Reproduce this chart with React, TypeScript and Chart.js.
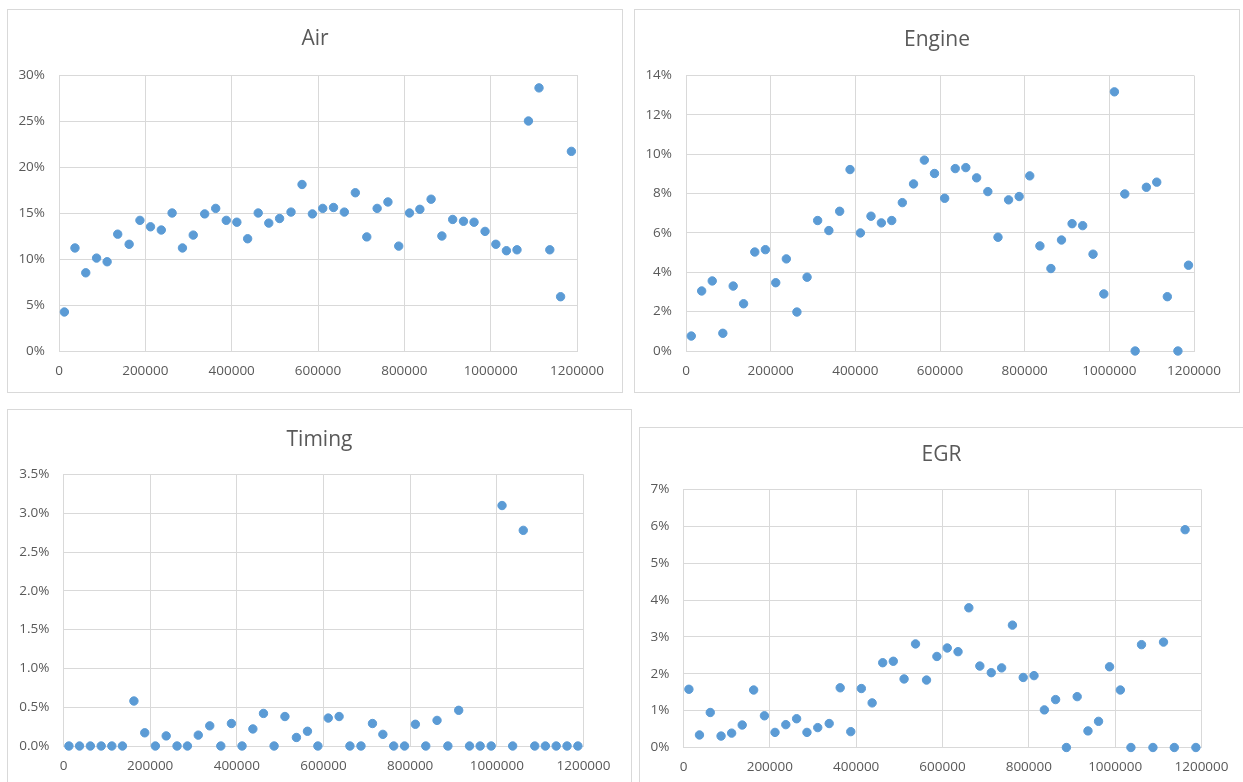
import React, { useEffect, useRef } from 'react';
import { Chart, registerables } from 'chart.js';

Chart.register(...registerables);

// ---- data ----
const mileage = [
  12500, 37000, 62000, 87000, 111500, 136000, 162500, 187500, 212000, 237000,
  262000, 286000, 311000, 337500, 363000, 387500, 412000, 437000, 461500, 486000,
  511000, 537500, 563000, 587000, 611000, 636000, 661000, 686500, 713000, 737000,
  762000, 787000, 812000, 836000, 862000, 887000, 912000, 937000, 961500, 987000,
  1012000, 1036500, 1061000, 1087500, 1112000, 1137000, 1162000, 1187000,
];

const airPct = [
  4.24, 11.2, 8.5, 10.1, 9.7, 12.7, 11.6, 14.2, 13.5, 13.15,
  15.0, 11.2, 12.6, 14.9, 15.5, 14.2, 14.0, 12.2, 15.0, 13.9,
  14.4, 15.1, 18.1, 14.9, 15.5, 15.6, 15.1, 17.2, 12.4, 15.5,
  16.2, 11.4, 15.0, 15.4, 16.5, 12.5, 14.3, 14.1, 14.0, 13.0,
  11.6, 10.9, 11.0, 25.0, 28.6, 11.0, 5.9, 21.7,
];

const enginePct = [
  0.76, 3.05, 3.56, 0.9, 3.3, 2.4, 5.03, 5.15, 3.47, 4.68,
  1.98, 3.75, 6.63, 6.12, 7.1, 9.22, 6.0, 6.85, 6.51, 6.63,
  7.54, 8.49, 9.7, 9.02, 7.76, 9.27, 9.32, 8.8, 8.1, 5.78,
  7.68, 7.85, 8.9, 5.34, 4.19, 5.64, 6.47, 6.37, 4.92, 2.9,
  13.17, 7.98, 0, 8.32, 8.58, 2.76, 0, 4.36,
];

const timingPct = [
  0, 0, 0, 0, 0, 0, 0.58, 0.17, 0, 0.13,
  0, 0, 0.14, 0.26, 0, 0.29, 0, 0.22, 0.42, 0,
  0.38, 0.11, 0.19, 0, 0.36, 0.38, 0, 0, 0.29, 0.15,
  0, 0, 0.28, 0, 0.33, 0, 0.46, 0, 0, 0,
  3.10, 0, 2.78, 0, 0, 0, 0, 0,
];

const egrPct = [
  1.58, 0.34, 0.95, 0.31, 0.39, 0.61, 1.56, 0.86, 0.41, 0.62,
  0.78, 0.41, 0.54, 0.65, 1.62, 0.43, 1.60, 1.21, 2.30, 2.34,
  1.86, 2.81, 1.83, 2.47, 2.70, 2.60, 3.79, 2.21, 2.03, 2.16,
  3.32, 1.90, 1.95, 1.02, 1.30, 0, 1.38, 0.45, 0.71, 2.19,
  1.56, 0, 2.79, 0, 2.86, 0, 5.91, 0,
];

const xAxisMax = 1200000;
const xAxisStep = 200000;

// ---- styling ----
const BLUE = '#5B9BD5';
const TEXT = '#595959';
const GRID = '#d9d9d9';
const FONT = '"Open Sans", "Noto Sans", sans-serif';
const TITLE_SIZE = 21;
const TICK_SIZE = 13.5;

type Panel = {
  title: string;
  values: number[];
  yMax: number;
  yStep: number;
  yDecimals: number;
  box: { left: number; top: number; width: number; height: number; noRight?: boolean; noBottom?: boolean };
  canvas: { left: number; top: number; width: number; height: number };
  yAxisWidth: number;
  rightSpace: number;
  titleCenter: number;
  plotTop: number;
  bottomSpace: number;
};

const panels: Panel[] = [
  {
    title: 'Air', values: airPct, yMax: 30, yStep: 5, yDecimals: 0,
    box: { left: 7, top: 9, width: 616, height: 384 },
    canvas: { left: 8, top: 10, width: 614, height: 382 },
    yAxisWidth: 51, rightSpace: 45, titleCenter: 29.5, plotTop: 65, bottomSpace: 41,
  },
  {
    title: 'Engine', values: enginePct, yMax: 14, yStep: 2, yDecimals: 0,
    box: { left: 634, top: 9, width: 606, height: 384 },
    canvas: { left: 635, top: 10, width: 604, height: 382 },
    yAxisWidth: 51, rightSpace: 45, titleCenter: 30, plotTop: 65.5, bottomSpace: 41,
  },
  {
    title: 'Timing', values: timingPct, yMax: 3.5, yStep: 0.5, yDecimals: 1,
    box: { left: 7, top: 409, width: 625, height: 400, noBottom: true },
    canvas: { left: 8, top: 410, width: 623, height: 372 },
    yAxisWidth: 55.5, rightSpace: 47.5, titleCenter: 30, plotTop: 64.5, bottomSpace: 36,
  },
  {
    title: 'EGR', values: egrPct, yMax: 7, yStep: 1, yDecimals: 0,
    box: { left: 639, top: 427, width: 620, height: 400, noRight: true, noBottom: true },
    canvas: { left: 640, top: 428, width: 603, height: 354 },
    yAxisWidth: 43.5, rightSpace: 41.5, titleCenter: 27.5, plotTop: 61.5, bottomSpace: 34.5,
  },
];

function ScatterPanel({ p }: { p: Panel }) {
  const ref = useRef<HTMLCanvasElement | null>(null);

  useEffect(() => {
    const el = ref.current;
    if (!el) return;
    const titleLine = TITLE_SIZE * 1.2;
    const padTop = p.titleCenter - titleLine / 2;
    const padBottom = p.plotTop - padTop - titleLine;
    const chart = new Chart(el, {
      type: 'scatter',
      data: {
        datasets: [
          {
            data: mileage.map((x, i) => ({ x, y: p.values[i] })),
            backgroundColor: BLUE,
            borderColor: BLUE,
            pointRadius: 4.2,
            pointBorderWidth: 1,
            pointHoverRadius: 4.2,
            clip: false,
          } as any,
        ],
      },
      options: {
        animation: false,
        responsive: false,
        events: [],
        layout: { padding: 0 },
        plugins: {
          legend: { display: false },
          tooltip: { enabled: false },
          title: {
            display: true,
            text: p.title,
            color: TEXT,
            font: { family: FONT, size: TITLE_SIZE, weight: 'normal', lineHeight: 1.2 },
            padding: { top: padTop, bottom: padBottom },
          },
        },
        scales: {
          x: {
            type: 'linear',
            min: 0,
            max: xAxisMax,
            grid: { color: GRID, lineWidth: 1, drawTicks: false },
            border: { color: GRID, width: 1 },
            ticks: {
              stepSize: xAxisStep,
              autoSkip: false,
              maxRotation: 0,
              padding: 12,
              color: TEXT,
              font: { family: FONT, size: TICK_SIZE },
              callback: (v: any) => String(v),
            },
            afterFit: (s: any) => { s.height = p.bottomSpace; },
          },
          y: {
            type: 'linear',
            min: 0,
            max: p.yMax,
            grid: { color: GRID, lineWidth: 1, drawTicks: false },
            border: { color: GRID, width: 1 },
            ticks: {
              stepSize: p.yStep,
              padding: 14,
              color: TEXT,
              font: { family: FONT, size: TICK_SIZE },
              callback: (v: any) => Number(v).toFixed(p.yDecimals) + '%',
            },
            afterFit: (s: any) => { s.width = p.yAxisWidth; },
          },
          yPad: {
            type: 'linear',
            position: 'right',
            display: true,
            grid: { display: false, drawTicks: false },
            border: { display: false },
            ticks: { display: false },
            afterFit: (s: any) => { s.width = p.rightSpace; },
          },
        },
      } as any,
    });
    return () => chart.destroy();
  }, [p]);

  const b = p.box;
  return (
    <>
      <div
        style={{
          position: 'absolute',
          left: b.left,
          top: b.top,
          width: b.width,
          height: b.height,
          boxSizing: 'border-box',
          borderTop: `1px solid ${GRID}`,
          borderLeft: `1px solid ${GRID}`,
          borderRight: b.noRight ? 'none' : `1px solid ${GRID}`,
          borderBottom: b.noBottom ? 'none' : `1px solid ${GRID}`,
          background: '#ffffff',
        }}
      />
      <canvas
        ref={ref}
        width={p.canvas.width}
        height={p.canvas.height}
        style={{
          position: 'absolute',
          left: p.canvas.left,
          top: p.canvas.top,
          width: p.canvas.width,
          height: p.canvas.height,
        }}
      />
    </>
  );
}

export default function App() {
  return (
    <div
      style={{
        position: 'absolute',
        left: 0,
        top: 0,
        width: 1243,
        height: 782,
        overflow: 'hidden',
        background: '#ffffff',
      }}
    >
      {panels.map((p) => (
        <ScatterPanel key={p.title} p={p} />
      ))}
    </div>
  );
}
